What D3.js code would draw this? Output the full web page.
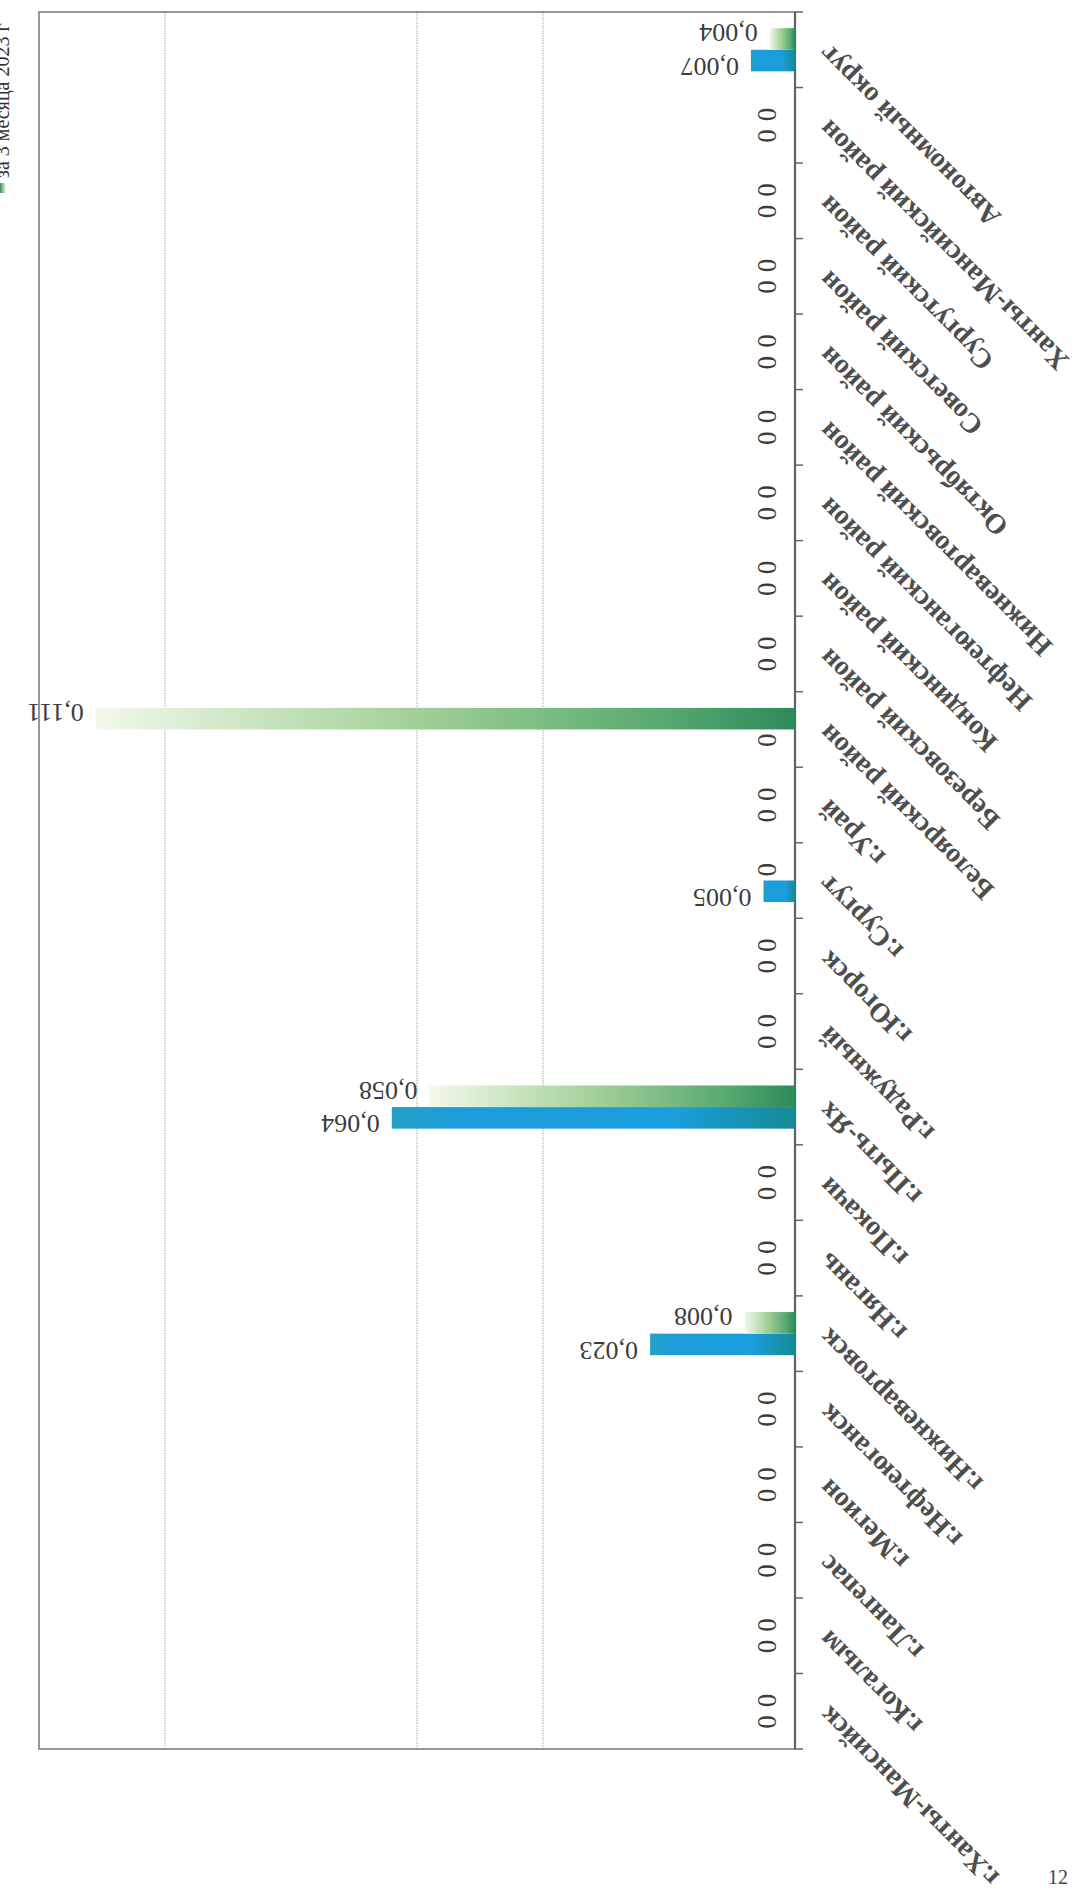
<!DOCTYPE html>
<html>
<head>
<meta charset="utf-8">
<script src="https://cdn.jsdelivr.net/npm/d3@7"></script>
<style>
  body { margin: 0; background: #fff; }
  text { font-family: "Liberation Serif", "DejaVu Serif", serif; }
</style>
</head>
<body>
<div class="chart"></div>
<script>
// categories, top to bottom in the upright chart (the scan shows it turned upside down)
var categories = ["г.Ханты-Мансийск", "г.Когалым", "г.Лангепас", "г.Мегион", "г.Нефтеюганск",
  "г.Нижневартовск", "г.Нягань", "г.Покачи", "г.Пыть-Ях", "г.Радужный", "г.Югорск", "г.Сургут",
  "г.Урай", "Белоярский район", "Березовский район", "Кондинский район", "Нефтеюганский район",
  "Нижневартовский район", "Октябрьский район", "Советский район", "Сургутский район",
  "Ханты-Мансийский район", "Автономный округ"];

var seriesNames = ["за 3 месяца 2024 г", "за 3 месяца 2023 г"];

var blueValues = [0, 0, 0, 0, 0, 0.023, 0, 0, 0.064, 0, 0, 0.005, 0, 0, 0, 0, 0, 0, 0, 0, 0, 0, 0.007];
var greenValues = [0, 0, 0, 0, 0, 0.008, 0, 0, 0.058, 0, 0, 0, 0, 0.111, 0, 0, 0, 0, 0, 0, 0, 0, 0.004];

var gridValues = [0.04, 0.06, 0.10];
var pageNumber = "12";

var width = 1082;
var height = 1893;

var svg = d3.select(".chart")
    .append("svg")
    .attr("width", width)
    .attr("height", height);

svg.append("rect").attr("width", width).attr("height", height).attr("fill", "#fff");

// bar gradients
var defs = svg.append("defs");
var blueGrad = defs.append("linearGradient").attr("id", "gBlue");
[[0, "#168a94"], [0.3, "#1a9edd"], [0.85, "#1d9cda"], [1, "#24a0c2"]].forEach(function(s) {
  blueGrad.append("stop").attr("offset", s[0]).attr("stop-color", s[1]);
});
var greenGrad = defs.append("linearGradient").attr("id", "gGreen");
[[0, "#2e8a5a"], [0.2, "#5aab72"], [0.55, "#a3d197"], [1, "#f2f9ec"]].forEach(function(s) {
  greenGrad.append("stop").attr("offset", s[0]).attr("stop-color", s[1]);
});
var fills = ["url(#gBlue)", "url(#gGreen)"];
var labelShift = [-6, 6];

// chart is drawn upright, then the whole group is turned 180 degrees like the scan
var g = svg.append("g")
    .attr("transform", "rotate(180 " + width / 2 + " " + height / 2 + ")");

var x = d3.scaleLinear().domain([0, 0.12]).range([287, 1043]);
var y = d3.scaleBand().domain(categories).range([144, 1881]);
var ySer = d3.scaleBand().domain(seriesNames).range([0, y.bandwidth()]).paddingOuter(0.75);

// gridlines
g.selectAll(".grid")
    .data(gridValues)
    .enter()
    .append("line")
    .attr("x1", function(d) { return x(d); })
    .attr("x2", function(d) { return x(d); })
    .attr("y1", y.range()[0])
    .attr("y2", y.range()[1])
    .attr("stroke", "#a8a8a8")
    .attr("stroke-width", 1.2)
    .attr("stroke-dasharray", "1.2,1.3");

// frame
g.append("rect")
    .attr("x", x(0))
    .attr("y", y.range()[0])
    .attr("width", x(0.12) - x(0))
    .attr("height", y.range()[1] - y.range()[0])
    .attr("fill", "none")
    .attr("stroke", "#8c8c8c")
    .attr("stroke-width", 1.8);

// category axis
g.append("line")
    .attr("x1", x(0)).attr("x2", x(0))
    .attr("y1", y.range()[0]).attr("y2", y.range()[1])
    .attr("stroke", "#626262")
    .attr("stroke-width", 2.2);

var bounds = categories.map(function(c) { return y(c); }).concat([y.range()[1]]);
g.selectAll(".tick")
    .data(bounds)
    .enter()
    .append("line")
    .attr("x1", x(0) - 8).attr("x2", x(0))
    .attr("y1", function(d) { return d; })
    .attr("y2", function(d) { return d; })
    .attr("stroke", "#666")
    .attr("stroke-width", 1.5);

g.selectAll(".catlabel")
    .data(categories)
    .enter()
    .append("text")
    .attr("transform", function(d) {
      return "translate(" + (x(0) - 28) + "," + (y(d) + y.bandwidth() / 2) + ") rotate(45)";
    })
    .attr("text-anchor", "end")
    .attr("dominant-baseline", "central")
    .style("font-size", "28px")
    .style("font-weight", "bold")
    .style("fill", "#4e4e4e")
    .text(function(d) { return d; });

// bars and value labels
var rows = [];
categories.forEach(function(c, i) {
  rows.push({ cat: c, s: 0, v: blueValues[i] });
  rows.push({ cat: c, s: 1, v: greenValues[i] });
});

g.selectAll(".bar")
    .data(rows.filter(function(d) { return d.v > 0; }))
    .enter()
    .append("rect")
    .attr("x", x(0))
    .attr("y", function(d) { return y(d.cat) + ySer(seriesNames[d.s]); })
    .attr("width", function(d) { return x(d.v) - x(0); })
    .attr("height", ySer.bandwidth())
    .attr("fill", function(d) { return fills[d.s]; });

function mid(d) { return y(d.cat) + ySer(seriesNames[d.s]) + ySer.bandwidth() / 2; }

g.selectAll(".val")
    .data(rows.filter(function(d) { return d.v > 0; }))
    .enter()
    .append("text")
    .attr("x", function(d) { return x(d.v) + 12; })
    .attr("y", function(d) { return mid(d) + labelShift[d.s]; })
    .attr("dominant-baseline", "central")
    .style("font-size", "26px")
    .style("fill", "#3c3c3c")
    .text(function(d) { return d3.format(".3f")(d.v).replace(".", ","); });

g.selectAll(".zero")
    .data(rows.filter(function(d) { return d.v === 0; }))
    .enter()
    .append("text")
    .attr("transform", function(d) { return "translate(" + (x(0) + 28) + "," + mid(d) + ") rotate(90)"; })
    .attr("text-anchor", "middle")
    .attr("dominant-baseline", "central")
    .style("font-size", "27px")
    .style("fill", "#3c3c3c")
    .text("0");

// legend, cut at the left edge of the scan
svg.append("rect")
    .attr("x", 0).attr("y", 183)
    .attr("width", 6).attr("height", 10)
    .attr("fill", "url(#gGreen)");

svg.append("text")
    .attr("transform", "translate(9,178) rotate(-90)")
    .style("font-size", "20px")
    .style("fill", "#333")
    .text(seriesNames[1]);

svg.append("text")
    .attr("x", 1058)
    .attr("y", 1884)
    .attr("text-anchor", "middle")
    .style("font-size", "20px")
    .style("fill", "#444")
    .text(pageNumber);
</script>
</body>
</html>
